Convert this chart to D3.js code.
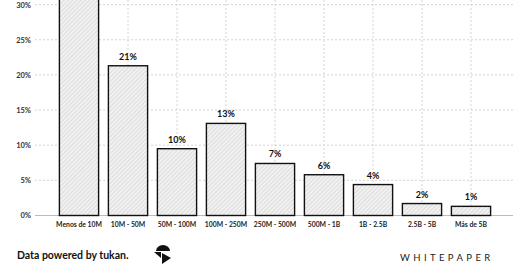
<!DOCTYPE html>
<html>
<head>
<meta charset="utf-8">
<script src="https://cdn.jsdelivr.net/npm/d3@7"></script>
<style>
  body { margin: 0; background: #fff; }
  text { font-family: Lato, "DejaVu Sans", sans-serif; }
</style>
</head>
<body>
<script>
// categories and values (share of companies, %)
const categories = ['Menos de 10M', '10M - 50M', '50M - 100M', '100M - 250M', '250M - 500M',
                    '500M - 1B', '1B - 2.5B', '2.5B - 5B', 'Más de 5B'];
const values = [35.7, 21.3, 9.5, 13.1, 7.4, 5.8, 4.4, 1.7, 1.3];
const labels = ['36%', '21%', '10%', '13%', '7%', '6%', '4%', '2%', '1%'];
const yTicks = [0, 5, 10, 15, 20, 25, 30];

let width = 520,
    height = 272;

let svg = d3.select('body')
    .append('svg')
    .attr('width', width)
    .attr('height', height);

// hatch pattern for bars
let defs = svg.append('defs');
let pat = defs.append('pattern')
    .attr('id', 'hatch')
    .attr('patternUnits', 'userSpaceOnUse')
    .attr('width', 3)
    .attr('height', 3)
    .attr('patternTransform', 'rotate(45)');
pat.append('rect')
    .attr('width', 3).attr('height', 3)
    .attr('fill', '#f1f1f1');
pat.append('line')
    .attr('x1', 0).attr('y1', 0)
    .attr('x2', 0).attr('y2', 3)
    .attr('stroke', '#c9c9c9')
    .attr('stroke-width', 1);

let x = d3.scaleBand()
    .domain(categories)
    .range([54.5, 495.5])
    .paddingInner(0.2)
    .paddingOuter(0.1);

let y = d3.scaleLinear()
    .domain([0, 30])
    .range([215.5, 4.6]);

// horizontal grid
svg.append('g')
    .selectAll('line')
    .data(yTicks.filter(d => d > 0))
    .enter()
    .append('line')
    .attr('x1', 35)
    .attr('x2', 513)
    .attr('y1', d => y(d))
    .attr('y2', d => y(d))
    .attr('stroke', '#d4d4d4')
    .attr('stroke-width', 1)
    .attr('stroke-dasharray', '2,2');

// vertical grid at bar centres
svg.append('g')
    .selectAll('line')
    .data(categories)
    .enter()
    .append('line')
    .attr('x1', d => x(d) + x.bandwidth() / 2)
    .attr('x2', d => x(d) + x.bandwidth() / 2)
    .attr('y1', 0)
    .attr('y2', y(0))
    .attr('stroke', '#d4d4d4')
    .attr('stroke-width', 1)
    .attr('stroke-dasharray', '2,2');

// y axis labels
let yAxis = d3.axisLeft(y)
    .tickValues(yTicks)
    .tickFormat(d => d + '%')
    .tickSize(0)
    .tickPadding(0);

let yg = svg.append('g')
    .attr('transform', 'translate(31, 0)')
    .call(yAxis);
yg.select('.domain').remove();
yg.selectAll('text')
    .attr('font-size', 7.5)
    .attr('font-weight', 700)
    .attr('fill', '#333');

// baseline
svg.append('line')
    .attr('x1', 35)
    .attr('x2', 513)
    .attr('y1', y(0))
    .attr('y2', y(0))
    .attr('stroke', '#bbb')
    .attr('stroke-width', 1);

// bars
svg.append('g')
    .selectAll('rect')
    .data(values)
    .enter()
    .append('rect')
    .attr('x', (d, i) => x(categories[i]))
    .attr('y', d => y(d))
    .attr('width', x.bandwidth())
    .attr('height', d => y(0) - y(d))
    .attr('fill', 'url(#hatch)')
    .attr('stroke', '#111')
    .attr('stroke-width', 1.4);

// value labels (the first bar runs past the top, its label is off the chart)
svg.append('g')
    .selectAll('text')
    .data(values.map((v, i) => ({ v: v, i: i })).filter(d => y(d.v) - 6 > 8))
    .enter()
    .append('text')
    .attr('x', d => x(categories[d.i]) + x.bandwidth() / 2)
    .attr('y', d => y(d.v) - 6)
    .attr('text-anchor', 'middle')
    .attr('font-size', 9)
    .attr('font-weight', 700)
    .attr('fill', '#111')
    .text(d => labels[d.i]);

// x axis labels
let xAxis = d3.axisBottom(x)
    .tickSize(0)
    .tickPadding(0);
let xg = svg.append('g')
    .attr('transform', 'translate(0, 222)')
    .call(xAxis);
xg.select('.domain').remove();
xg.selectAll('text')
    .attr('font-size', 6.8)
    .attr('font-weight', 700)
    .attr('fill', '#222');

// footer
svg.append('text')
    .attr('x', 17)
    .attr('y', 258.5)
    .attr('font-size', 10.5)
    .attr('font-weight', 700)
    .attr('fill', '#111')
    .text('Data powered by tukan.');

// logo
let logo = svg.append('g')
    .attr('transform', 'translate(154, 245)');
logo.append('path')
    .attr('d', 'M2,6 A7,6 0 0 1 16,6 Z')
    .attr('fill', '#111');
logo.append('path')
    .attr('d', 'M0,7 L7,7 L7,13 Z')
    .attr('fill', '#111');
logo.append('path')
    .attr('d', 'M8,8 L17,13 L8,19 Z')
    .attr('fill', '#111');

svg.append('text')
    .attr('x', 400)
    .attr('y', 260.5)
    .attr('font-size', 9.5)
    .attr('letter-spacing', 3.4)
    .attr('fill', '#222')
    .text('WHITEPAPER');
</script>
</body>
</html>
